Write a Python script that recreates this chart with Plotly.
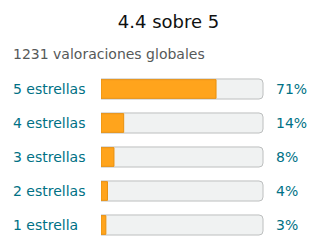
import plotly.graph_objects as go

labels = ["5 estrellas", "4 estrellas", "3 estrellas", "2 estrellas", "1 estrella"]
percents = [71, 14, 8, 4, 3]
full = [100, 100, 100, 100, 100]
title_text = "4.4 sobre 5"
subtitle_text = "1231 valoraciones globales"

FONT = "DejaVu Sans"
TEAL = "#007185"
PW = 320 - 101 - 56
PH = 252 - 72 - 10

fig = go.Figure()
fig.add_trace(go.Bar(
    y=labels, x=full, orientation="h", width=0.59,
    marker=dict(color="#F0F2F2", line=dict(color="#BDBFBF", width=1), cornerradius=4),
    hoverinfo="skip", showlegend=False,
))
fig.add_trace(go.Bar(
    y=labels, x=percents, orientation="h", width=0.55,
    marker=dict(color="#FFA41C", line=dict(color="#E8900F", width=1), cornerradius=3),
    hoverinfo="skip", showlegend=False,
))

annotations = []
for lab, p in zip(labels, percents):
    annotations.append(dict(
        x=(11 - 101) / PW, y=lab, xref="paper", yref="y", text=lab, showarrow=False,
        xanchor="left", yanchor="middle", font=dict(family=FONT, size=14, color=TEAL),
    ))
    annotations.append(dict(
        x=(274 - 101) / PW, y=lab, xref="paper", yref="y", text=f"{p}%", showarrow=False,
        xanchor="left", yanchor="middle", font=dict(family=FONT, size=14, color=TEAL),
    ))
annotations.append(dict(
    x=(11 - 101) / PW, y=(252 - 10 - 54) / PH, xref="paper", yref="paper", text=subtitle_text,
    showarrow=False, xanchor="left", yanchor="middle",
    font=dict(family=FONT, size=14, color="#565959"),
))

fig.update_layout(
    width=320, height=252,
    margin=dict(l=101, r=56, t=72, b=10),
    paper_bgcolor="white", plot_bgcolor="white",
    barmode="overlay",
    title=dict(text=title_text, x=168.5 / 320, xanchor="center", y=1 - 22 / 252, yanchor="middle",
               xref="container", yref="container",
               font=dict(family=FONT, size=18, color="#0F1111")),
    xaxis=dict(range=[0, 100.6], visible=False, fixedrange=True),
    yaxis=dict(categoryorder="array", categoryarray=labels, autorange="reversed",
               visible=False, fixedrange=True),
    annotations=annotations,
)

fig.write_html("out.html")
